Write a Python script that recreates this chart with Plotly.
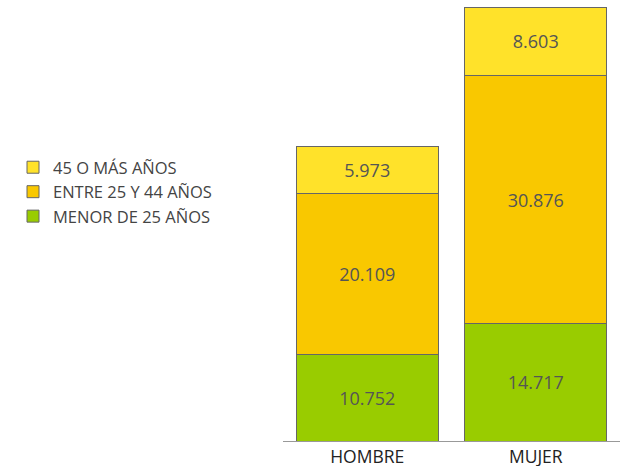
import plotly.graph_objects as go

categories = ["HOMBRE", "MUJER"]
series_names = ["MENOR DE 25 AÑOS", "ENTRE 25 Y 44 AÑOS", "45 O MÁS AÑOS"]
menor_25 = [10.752, 14.717]
entre_25_44 = [20.109, 30.876]
mas_45 = [5.973, 8.603]
labels_menor = ["10.752", "14.717"]
labels_entre = ["20.109", "30.876"]
labels_mas = ["5.973", "8.603"]

colors = ["#99CC00", "#F9C800", "#FFE22A"]
values = [menor_25, entre_25_44, mas_45]
labels = [labels_menor, labels_entre, labels_mas]

FONT = "Open Sans"

fig = go.Figure()
for name, vals, lab, col in zip(series_names, values, labels, colors):
    fig.add_trace(go.Bar(
        x=categories, y=vals, name=name, text=lab,
        textposition="inside", insidetextanchor="middle",
        textfont=dict(family=FONT, size=18, color="#555555"),
        marker=dict(color=col, line=dict(color="#666666", width=1)),
        width=0.843, hoverinfo="skip",
    ))

total_max = max(a + b + c for a, b, c in zip(menor_25, entre_25_44, mas_45))

fig.update_layout(
    width=627, height=466,
    barmode="stack",
    margin=dict(l=283, r=7, t=7, b=25),
    paper_bgcolor="white", plot_bgcolor="white",
    showlegend=True,
    legend=dict(
        xref="container", yref="container",
        x=13 / 627, y=1 - 150 / 466, xanchor="left", yanchor="top",
        traceorder="reversed",
        font=dict(family=FONT, size=16.5, color="#444444"),
        tracegroupgap=0, itemwidth=30,
        bgcolor="rgba(0,0,0,0)",
    ),
    xaxis=dict(
        showgrid=False, zeroline=False, showline=True, linecolor="#999999", linewidth=1,
        ticks="", ticklen=0, tickfont=dict(family=FONT, size=17.5, color="#222222"),
        range=[-0.5, 1.5], automargin=False,
    ),
    yaxis=dict(
        showgrid=False, zeroline=False, showline=False, showticklabels=False,
        range=[0, total_max], automargin=False,
    ),
)

fig.write_html(
    "out.html",
    config={"displayModeBar": False},
    post_script="document.body.style.margin='0';document.body.style.overflow='hidden';",
)
